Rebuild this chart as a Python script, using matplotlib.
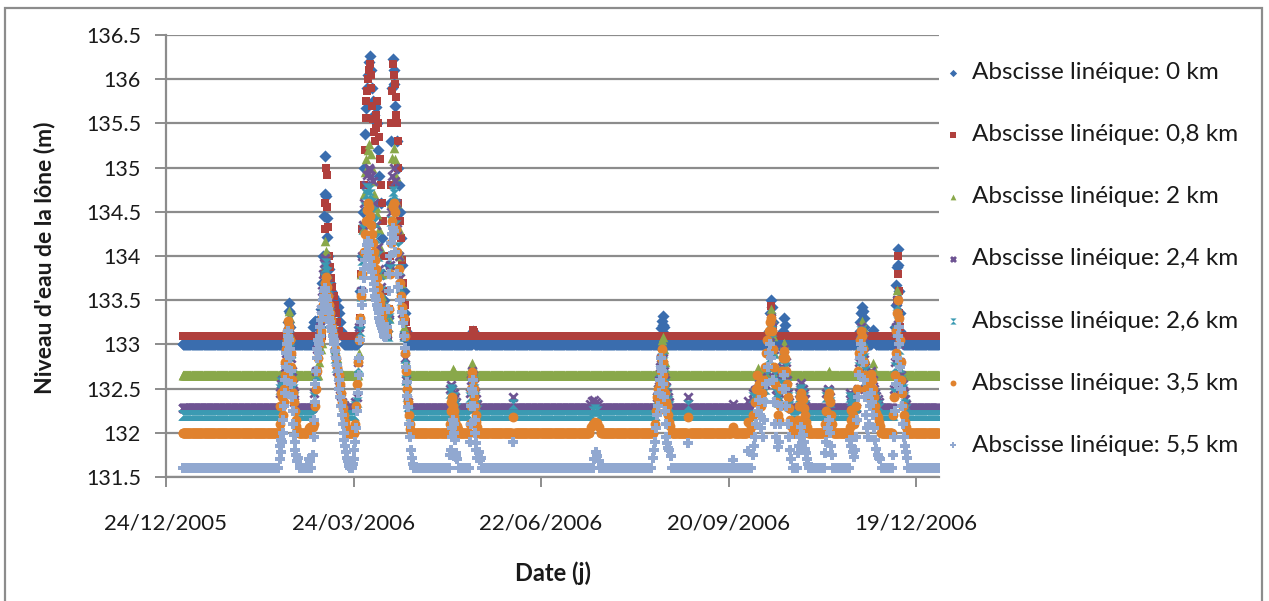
import numpy as np
import matplotlib
matplotlib.use("Agg")
import matplotlib.pyplot as plt
import matplotlib.dates as mdates
from matplotlib.patches import Rectangle

plt.rcParams['font.family'] = ['Lato', 'DejaVu Sans']

# jour 0 = 01/01/2006
START = np.datetime64('2006-01-01')
LAST_DAY = 363

LABELS = ["Abscisse linéique: 0 km", "Abscisse linéique: 0,8 km",
          "Abscisse linéique: 2 km", "Abscisse linéique: 2,4 km",
          "Abscisse linéique: 2,6 km", "Abscisse linéique: 3,5 km",
          "Abscisse linéique: 5,5 km"]

# niveau "à l'étiage" de chaque point (m)
BASELINES = [133.0, 133.1, 132.65, 132.28, 132.2, 132.0, 131.6]

# crues : (jour, niveau)
EVENTS_0KM = [
    (50.3, 133.1), (50.6, 133.25), (50.9, 133.38), (51.1, 133.47), (51.4, 133.35), (51.7, 133.2), (52.0, 133.08),
    (62.5, 133.2), (63.0, 133.25), (63.5, 133.27), (64.0, 133.22), (64.5, 133.26), (65.0, 133.2), (65.5, 133.25), (66.0, 133.2),
    (66.6, 133.4), (67.0, 133.7), (67.4, 134.0), (67.8, 134.45), (68.1, 134.7), (68.4, 135.13), (68.8, 134.68),
    (69.1, 134.43), (69.4, 134.21), (69.8, 134.0), (70.3, 133.85), (70.8, 133.7), (71.4, 133.6), (72.0, 133.55),
    (72.6, 133.5), (73.2, 133.45), (73.8, 133.5), (74.4, 133.42), (75.0, 133.35), (75.6, 133.25), (76.2, 133.15), (76.8, 133.08),
    (84.5, 133.2), (85.2, 133.6), (85.9, 134.0), (86.5, 134.5), (87.0, 135.0), (87.5, 135.38), (88.0, 135.67),
    (88.5, 135.9), (89.0, 136.05), (89.5, 136.2), (89.9, 136.26), (90.3, 136.1), (90.8, 135.9), (91.3, 135.75),
    (91.9, 135.6), (92.6, 135.68), (93.2, 135.5), (93.8, 135.2), (94.4, 134.9), (95.0, 134.6), (95.6, 134.2),
    (96.2, 133.8), (96.8, 133.5), (97.4, 133.25), (98.0, 133.15), (98.6, 133.3), (99.1, 133.9), (99.6, 134.6),
    (100.0, 135.3), (100.4, 135.9), (100.8, 136.23), (101.2, 136.1), (101.6, 135.95), (102.0, 135.7), (102.7, 135.3),
    (103.2, 135.0), (103.6, 134.8), (104.2, 134.5), (104.8, 134.2), (105.4, 133.9), (106.0, 133.6), (106.6, 133.35),
    (107.2, 133.15), (107.7, 133.05),
    (139.5, 133.15),
    (229.5, 133.1), (229.8, 133.18), (230.1, 133.27), (230.4, 133.22), (230.7, 133.32), (231.0, 133.2), (231.3, 133.12),
    (281.5, 133.15), (282.0, 133.35), (282.4, 133.5), (282.8, 133.42), (283.2, 133.25), (283.6, 133.1),
    (288.0, 133.15), (288.5, 133.3), (289.0, 133.22), (289.5, 133.1),
    (325.0, 133.15), (325.3, 133.25), (325.6, 133.35), (326.0, 133.42), (326.4, 133.38), (326.8, 133.3), (327.2, 133.2),
    (327.6, 133.1), (331.0, 133.1), (331.5, 133.16), (332.0, 133.1),
    (342.0, 133.2), (342.3, 133.45), (342.6, 133.67), (342.9, 133.87), (343.2, 134.08), (343.5, 133.9), (343.8, 133.6),
    (344.1, 133.35), (344.5, 133.15), (345.0, 133.05),
]

EVENTS_08KM = [
    (67.5, 133.4), (67.9, 133.8), (68.2, 134.3), (68.5, 134.6), (68.8, 135.0), (69.1, 134.92), (69.4, 134.55),
    (69.7, 134.33), (70.1, 134.0), (70.6, 133.87), (71.2, 133.75), (71.8, 133.65), (72.4, 133.55), (73.0, 133.45),
    (73.6, 133.35), (74.2, 133.25), (74.8, 133.15),
    (85.0, 133.3), (85.6, 133.8), (86.2, 134.3), (86.8, 134.8), (87.3, 135.2), (87.8, 135.56), (88.2, 135.75),
    (88.6, 135.87), (89.0, 136.0), (89.4, 136.1), (89.8, 136.17), (90.2, 136.05), (90.6, 135.9), (91.0, 135.7),
    (91.4, 135.55), (91.8, 135.4), (92.2, 135.3), (92.6, 135.45), (93.0, 135.6), (93.4, 135.75), (93.8, 135.5),
    (94.2, 135.35), (94.7, 135.1), (95.2, 134.8), (95.6, 134.6), (96.0, 134.4), (96.5, 134.0), (97.0, 133.6),
    (97.5, 133.3), (98.0, 133.1), (98.5, 133.08), (99.0, 133.4), (99.4, 134.0), (99.8, 134.8), (100.2, 135.5),
    (100.6, 135.87), (101.0, 136.17), (101.4, 136.05), (101.8, 135.95), (102.2, 135.8), (102.6, 135.6),
    (103.0, 135.5), (103.2, 135.3), (103.35, 135.0), (103.5, 134.6), (104.1, 134.4), (104.7, 134.2), (105.3, 133.95),
    (105.9, 133.7), (106.5, 133.45), (107.1, 133.25), (107.6, 133.15),
    (139.3, 133.16), (139.7, 133.14),
    (282.3, 133.44), (282.7, 133.3), (283.1, 133.18),
    (342.8, 133.5), (343.1, 134.0), (343.4, 133.8), (343.7, 133.6), (344.0, 133.35), (344.3, 133.2),
]

EVENTS_2KM = [
    (49.8, 132.8), (50.2, 133.0), (50.6, 133.2), (51.0, 133.38), (51.4, 133.3), (51.8, 133.1), (52.2, 132.9), (52.6, 132.75),
    (65.5, 132.8), (66.2, 132.95), (66.8, 133.02), (67.3, 133.3), (67.7, 133.6), (68.1, 133.9), (68.5, 134.17),
    (68.9, 134.06), (69.3, 133.8), (69.8, 133.6), (70.3, 133.5), (70.9, 133.35), (71.5, 133.25), (72.1, 133.15),
    (72.7, 133.05), (73.3, 132.95), (74.0, 132.85), (74.7, 132.75), (75.4, 132.7),
    (84.6, 132.9), (85.2, 133.3), (85.8, 133.8), (86.4, 134.3), (87.0, 134.7), (87.6, 134.95), (88.2, 135.1),
    (88.8, 135.2), (89.5, 135.27), (90.2, 135.15), (90.8, 135.0), (91.4, 134.85), (92.0, 134.7), (92.6, 134.55),
    (93.2, 134.48), (94.0, 134.3), (94.8, 134.1), (95.6, 133.8), (96.4, 133.5), (97.2, 133.3), (98.0, 133.15),
    (98.8, 133.3), (99.4, 133.9), (100.0, 134.6), (100.6, 135.11), (101.2, 135.22), (101.8, 135.1), (102.4, 134.9),
    (103.0, 134.6), (103.6, 134.3), (104.2, 134.0), (104.8, 133.7), (105.4, 133.45), (106.0, 133.2), (106.6, 132.95),
    (107.2, 132.8),
    (129.8, 132.72), (130.2, 132.7),
    (138.5, 132.72), (139.0, 132.79), (139.5, 132.75), (140.0, 132.7),
    (229.5, 132.9), (230.0, 133.05), (230.5, 133.08), (231.0, 132.95), (231.5, 132.8),
    (276.0, 132.73), (276.5, 132.7), (281.8, 132.9), (282.2, 133.2), (282.6, 133.4), (283.0, 133.3), (283.4, 133.1),
    (283.8, 132.9), (284.3, 132.75), (288.3, 132.85), (288.8, 133.02), (289.3, 132.9), (289.8, 132.75),
    (309.5, 132.68), (310.0, 132.7),
    (325.5, 133.1), (326.0, 133.27), (326.5, 133.2), (327.0, 133.0), (327.5, 132.85), (331.5, 132.79), (332.0, 132.72),
    (342.6, 133.2), (343.0, 133.61), (343.4, 133.4), (343.8, 133.1), (344.2, 132.85), (344.6, 132.7),
]

EVENTS_24KM = [
    (46.8, 132.45), (47.2, 132.55), (47.6, 132.6), (48.0, 132.55), (48.4, 132.5), (48.8, 132.6), (49.2, 132.75),
    (49.6, 132.9), (50.0, 133.05), (50.4, 133.15), (50.8, 133.22), (51.2, 133.18), (51.6, 133.0), (52.0, 132.85),
    (52.4, 132.7), (52.8, 132.55), (53.2, 132.45), (53.6, 132.35),
    (63.0, 132.45), (63.8, 132.7), (64.6, 132.95), (65.4, 133.1), (66.0, 133.2), (66.5, 133.4), (67.0, 133.6),
    (67.5, 133.8), (68.0, 133.92), (68.5, 133.98), (69.0, 133.9), (69.5, 133.7), (70.0, 133.55), (70.6, 133.4),
    (71.2, 133.3), (71.8, 133.2), (72.4, 133.05), (73.0, 132.9), (73.6, 132.8), (74.2, 132.7), (74.8, 132.6),
    (75.4, 132.5), (76.0, 132.42), (76.6, 132.35), (77.2, 132.32),
    (82.8, 132.35), (83.5, 132.4), (84.2, 132.8), (84.8, 133.2), (85.4, 133.6), (86.0, 134.0), (86.6, 134.35),
    (87.2, 134.6), (87.8, 134.8), (88.5, 134.92), (89.2, 135.0), (89.9, 134.97), (90.6, 134.9), (91.3, 134.85),
    (92.0, 134.6), (92.8, 134.35), (93.6, 134.1), (94.4, 133.85), (95.2, 133.65), (96.0, 133.45), (96.8, 133.3),
    (97.6, 133.18), (98.3, 133.12), (98.9, 133.35), (99.5, 133.9), (100.1, 134.5), (100.7, 134.9), (101.3, 135.0),
    (101.9, 134.85), (102.5, 134.6), (103.1, 134.3), (103.7, 134.0), (104.3, 133.75), (104.9, 133.55),
    (105.5, 133.35), (106.1, 133.1), (106.6, 132.85), (107.1, 132.6), (107.6, 132.45), (108.1, 132.35),
    (128.5, 132.5), (129.0, 132.54), (129.5, 132.5), (130.0, 132.45), (130.5, 132.4), (131.0, 132.35),
    (138.0, 132.45), (138.5, 132.6), (139.0, 132.7), (139.5, 132.65), (140.0, 132.55), (140.5, 132.45),
    (141.0, 132.38), (141.5, 132.33),
    (158.7, 132.4),
    (195.5, 132.33), (196.5, 132.36), (197.5, 132.37), (198.5, 132.35), (199.5, 132.33),
    (227.5, 132.4), (228.0, 132.5), (228.5, 132.6), (229.0, 132.75), (229.5, 132.85), (230.0, 132.9),
    (230.5, 132.85), (231.0, 132.7), (231.5, 132.6), (232.0, 132.52), (232.5, 132.45), (233.0, 132.4), (233.5, 132.35),
    (242.7, 132.4), (264.3, 132.33), (271.5, 132.36),
    (273.5, 132.45), (274.5, 132.48), (275.5, 132.5), (276.5, 132.55), (277.5, 132.5), (278.5, 132.48),
    (279.5, 132.55), (280.5, 132.7), (281.2, 132.9), (281.8, 133.1), (282.4, 133.3), (283.0, 133.2), (283.6, 132.95),
    (284.2, 132.7), (284.8, 132.5), (285.5, 132.4), (286.2, 132.45), (287.0, 132.6), (287.6, 132.75), (288.2, 132.9),
    (288.8, 132.95), (289.4, 132.8), (290.0, 132.6), (290.6, 132.45), (291.2, 132.35),
    (296.0, 132.45), (296.5, 132.52), (297.0, 132.56), (297.5, 132.5), (298.0, 132.45), (298.5, 132.38),
    (309.0, 132.45), (309.5, 132.5), (310.0, 132.48), (310.5, 132.4),
    (320.3, 132.45), (320.8, 132.42), (321.3, 132.38), (322.0, 132.35), (324.0, 132.5), (324.6, 132.8),
    (325.2, 133.05), (325.8, 133.2), (326.4, 133.1), (327.0, 132.9), (327.6, 132.75), (328.2, 132.65),
    (328.8, 132.55), (329.4, 132.6), (330.0, 132.65), (330.6, 132.7), (331.2, 132.6), (331.8, 132.5),
    (332.4, 132.45), (333.0, 132.42), (333.6, 132.38), (334.2, 132.35),
    (341.5, 132.5), (342.0, 132.8), (342.5, 133.2), (343.0, 133.5), (343.5, 133.3), (344.0, 133.0), (344.5, 132.8),
    (345.0, 132.65), (345.5, 132.55), (346.0, 132.45), (346.5, 132.38), (347.0, 132.33),
]

EVENTS_26KM = [
    (46.8, 132.5), (47.2, 132.58), (47.6, 132.52), (48.0, 132.6), (48.4, 132.48), (48.8, 132.55), (49.2, 132.7),
    (49.6, 132.85), (50.0, 133.0), (50.4, 133.12), (50.8, 133.2), (51.2, 133.15), (51.6, 132.95), (52.0, 132.8),
    (52.4, 132.65), (52.8, 132.5), (53.2, 132.4), (53.6, 132.3),
    (63.2, 132.4), (64.0, 132.65), (64.8, 132.9), (65.6, 133.05), (66.2, 133.15), (66.7, 133.35), (67.2, 133.55),
    (67.7, 133.75), (68.2, 133.88), (68.7, 133.92), (69.2, 133.82), (69.7, 133.65), (70.2, 133.5), (70.8, 133.35),
    (71.4, 133.25), (72.0, 133.12), (72.6, 133.0), (73.2, 132.85), (73.8, 132.75), (74.4, 132.65), (75.0, 132.55),
    (75.6, 132.45), (76.2, 132.37), (76.8, 132.3), (77.4, 132.25),
    (82.9, 132.3), (83.6, 132.35), (84.3, 132.75), (84.9, 133.15), (85.5, 133.55), (86.1, 133.95), (86.7, 134.3),
    (87.3, 134.55), (87.9, 134.7), (88.6, 134.77), (89.3, 134.75), (90.0, 134.7), (90.7, 134.6), (91.4, 134.5),
    (92.1, 134.38), (92.9, 134.2), (93.7, 134.0), (94.5, 133.8), (95.3, 133.6), (96.1, 133.42), (96.9, 133.28),
    (97.7, 133.16), (98.4, 133.1), (99.0, 133.3), (99.6, 133.85), (100.2, 134.4), (100.8, 134.74), (101.4, 134.7),
    (102.0, 134.58), (102.6, 134.35), (103.2, 134.1), (103.8, 133.85), (104.4, 133.65), (105.0, 133.5),
    (105.6, 133.32), (106.2, 133.1), (106.7, 132.85), (107.2, 132.6), (107.7, 132.42), (108.2, 132.3), (108.7, 132.24),
    (128.5, 132.45), (129.0, 132.5), (129.5, 132.47), (130.0, 132.4), (130.5, 132.33), (131.0, 132.28),
    (138.0, 132.4), (138.5, 132.55), (139.0, 132.66), (139.5, 132.6), (140.0, 132.5), (140.5, 132.4),
    (141.0, 132.32), (141.5, 132.26),
    (158.7, 132.33),
    (197.0, 132.25), (198.0, 132.27), (199.0, 132.25),
    (227.5, 132.38), (228.0, 132.47), (228.5, 132.56), (229.0, 132.7), (229.5, 132.8), (230.0, 132.85),
    (230.5, 132.8), (231.0, 132.65), (231.5, 132.55), (232.0, 132.48), (232.5, 132.42), (233.0, 132.36), (233.5, 132.3),
    (242.7, 132.32),
    (273.5, 132.4), (274.5, 132.44), (275.5, 132.46), (276.5, 132.5), (277.5, 132.45), (278.5, 132.44),
    (279.5, 132.5), (280.5, 132.65), (281.2, 132.85), (281.8, 133.05), (282.4, 133.25), (283.0, 133.15),
    (283.6, 132.9), (284.2, 132.65), (284.8, 132.45), (285.5, 132.35), (286.2, 132.4), (287.0, 132.55),
    (287.6, 132.7), (288.2, 132.85), (288.8, 132.9), (289.4, 132.75), (290.0, 132.55), (290.6, 132.4), (291.2, 132.3),
    (296.0, 132.4), (296.5, 132.47), (297.0, 132.5), (297.5, 132.45), (298.0, 132.4), (298.5, 132.32),
    (309.0, 132.4), (309.5, 132.46), (310.0, 132.44), (310.5, 132.35),
    (320.3, 132.4), (320.8, 132.37), (321.3, 132.33), (322.0, 132.3), (324.0, 132.45), (324.6, 132.75),
    (325.2, 133.0), (325.8, 133.15), (326.4, 133.05), (327.0, 132.85), (327.6, 132.7), (328.2, 132.6),
    (328.8, 132.5), (329.4, 132.55), (330.0, 132.6), (330.6, 132.65), (331.2, 132.55), (331.8, 132.45),
    (332.4, 132.4), (333.0, 132.36), (333.6, 132.32), (334.2, 132.28),
    (341.5, 132.45), (342.0, 132.75), (342.5, 133.15), (343.0, 133.45), (343.5, 133.25), (344.0, 132.95),
    (344.5, 132.75), (345.0, 132.6), (345.5, 132.5), (346.0, 132.4), (346.5, 132.33), (347.0, 132.27),
]

EVENTS_35KM = [
    (46.6, 132.1), (46.9, 132.3), (47.2, 132.45), (47.5, 132.4), (47.8, 132.3), (48.1, 132.2), (48.4, 132.35),
    (48.7, 132.5), (49.0, 132.65), (49.3, 132.8), (49.6, 132.95), (49.9, 133.05), (50.2, 133.15), (50.6, 133.27),
    (51.0, 133.2), (51.4, 133.05), (51.8, 132.9), (52.2, 132.75), (52.6, 132.6), (53.0, 132.45), (53.4, 132.35),
    (53.8, 132.25), (54.2, 132.15), (54.6, 132.08), (55.0, 132.03),
    (60.5, 132.05), (61.0, 132.07), (61.5, 132.06), (62.0, 132.08), (62.4, 132.06),
    (62.8, 132.1), (63.3, 132.3), (63.8, 132.5), (64.3, 132.7), (64.8, 132.85), (65.3, 133.0), (65.8, 133.05),
    (66.3, 133.15), (66.8, 133.3), (67.3, 133.45), (67.8, 133.6), (68.3, 133.7), (68.8, 133.76), (69.3, 133.65),
    (69.8, 133.55), (70.3, 133.45), (70.8, 133.35), (71.3, 133.28), (71.8, 133.2), (72.3, 133.12), (72.8, 133.05),
    (73.3, 132.95), (73.8, 132.85), (74.3, 132.75), (74.8, 132.65), (75.3, 132.55), (75.8, 132.45), (76.3, 132.35),
    (76.8, 132.28), (77.3, 132.2), (77.8, 132.12), (78.3, 132.06),
    (82.8, 132.1), (83.3, 132.3), (83.8, 132.55), (84.3, 132.8), (84.8, 133.05), (85.3, 133.3), (85.8, 133.55),
    (86.3, 133.8), (86.8, 134.05), (87.3, 134.25), (87.8, 134.4), (88.3, 134.52), (88.8, 134.6), (89.3, 134.55),
    (89.8, 134.45), (90.3, 134.35), (90.8, 134.25), (91.3, 134.15), (91.8, 134.05), (92.3, 133.95), (92.8, 133.85),
    (93.3, 133.75), (93.8, 133.65), (94.3, 133.55), (94.8, 133.47), (95.3, 133.4), (95.8, 133.33), (96.3, 133.25),
    (96.8, 133.2), (97.3, 133.15), (97.8, 133.12), (98.3, 133.15), (98.8, 133.4), (99.3, 133.8), (99.8, 134.15),
    (100.3, 134.4), (100.8, 134.55), (101.3, 134.6), (101.8, 134.5), (102.4, 134.3), (103.0, 134.05),
    (103.6, 133.85), (104.2, 133.7), (104.8, 133.55), (105.4, 133.42), (106.0, 133.3), (106.5, 133.1),
    (106.9, 132.9), (107.3, 132.7), (107.7, 132.5), (108.1, 132.35), (108.5, 132.2), (108.9, 132.1), (109.3, 132.04),
    (128.3, 132.1), (128.6, 132.25), (128.9, 132.35), (129.2, 132.4), (129.5, 132.38), (129.8, 132.3),
    (130.1, 132.25), (130.4, 132.18), (130.8, 132.12), (131.2, 132.06), (131.6, 132.08), (132.0, 132.04),
    (137.9, 132.1), (138.2, 132.3), (138.5, 132.5), (138.8, 132.62), (139.1, 132.69), (139.4, 132.6),
    (139.7, 132.5), (140.0, 132.4), (140.3, 132.3), (140.6, 132.2), (140.9, 132.12), (141.3, 132.06),
    (158.7, 132.18),
    (196.0, 132.06), (197.0, 132.1), (198.0, 132.12), (199.0, 132.11), (200.0, 132.07),
    (226.5, 132.1), (227.0, 132.25), (227.5, 132.4), (228.0, 132.5), (228.5, 132.35), (229.0, 132.55),
    (229.5, 132.7), (229.8, 132.85), (230.1, 132.95), (230.4, 132.8), (230.7, 132.65), (231.0, 132.55),
    (231.4, 132.45), (231.8, 132.35), (232.2, 132.25), (232.6, 132.3), (233.0, 132.2), (233.5, 132.12), (234.0, 132.08),
    (242.7, 132.18), (264.0, 132.07), (271.5, 132.12),
    (273.0, 132.06), (273.8, 132.2), (274.5, 132.35), (275.2, 132.5), (275.8, 132.65), (276.4, 132.55),
    (277.0, 132.4), (277.6, 132.3), (278.2, 132.45), (278.8, 132.6), (279.4, 132.75), (280.0, 132.9),
    (280.6, 133.05), (281.2, 133.15), (281.8, 133.25), (282.4, 133.3), (283.0, 133.15), (283.5, 132.95),
    (284.0, 132.75), (284.5, 132.55), (285.0, 132.35), (285.5, 132.2), (286.0, 132.15), (286.5, 132.3),
    (287.0, 132.5), (287.5, 132.7), (288.0, 132.85), (288.5, 132.93), (289.0, 132.85), (289.5, 132.7),
    (290.0, 132.55), (290.5, 132.4), (291.0, 132.28), (291.5, 132.15), (292.0, 132.08),
    (295.5, 132.15), (296.0, 132.3), (296.5, 132.4), (297.0, 132.45), (297.5, 132.38), (298.0, 132.28),
    (298.5, 132.2), (299.0, 132.12), (299.5, 132.06),
    (308.5, 132.1), (309.0, 132.25), (309.5, 132.4), (310.0, 132.45), (310.5, 132.35), (311.0, 132.2), (311.5, 132.1),
    (320.3, 132.06), (320.6, 132.15), (321.0, 132.26), (321.5, 132.2), (322.0, 132.1), (322.5, 132.15),
    (323.0, 132.3), (323.5, 132.5), (324.0, 132.7), (324.5, 132.9), (325.0, 133.05), (325.5, 133.15),
    (326.0, 133.1), (326.5, 132.95), (327.0, 132.8), (327.5, 132.65), (328.0, 132.5), (328.5, 132.4),
    (329.0, 132.45), (329.5, 132.55), (330.0, 132.62), (330.5, 132.67), (331.0, 132.6), (331.5, 132.5),
    (332.0, 132.4), (332.5, 132.3), (333.0, 132.22), (333.5, 132.18), (334.0, 132.12), (334.5, 132.08),
    (341.0, 132.2), (341.4, 132.4), (341.8, 132.65), (342.2, 132.9), (342.6, 133.15), (343.0, 133.35),
    (343.4, 133.5), (343.8, 133.3), (344.2, 133.05), (344.6, 132.8), (345.0, 132.6), (345.4, 132.45),
    (345.8, 132.3), (346.2, 132.2), (346.6, 132.12), (347.0, 132.06),
]

EVENTS_55KM = [
    (46.5, 131.7), (46.8, 131.85), (47.1, 131.92), (47.4, 131.78), (47.7, 131.9), (48.0, 132.0), (48.3, 132.15),
    (48.6, 132.3), (48.9, 132.45), (49.2, 132.6), (49.5, 132.75), (49.8, 132.9), (50.1, 133.0), (50.4, 133.1),
    (50.7, 133.15), (51.0, 133.05), (51.3, 132.95), (51.6, 132.85), (51.9, 132.7), (52.2, 132.55), (52.5, 132.4),
    (52.8, 132.25), (53.1, 132.1), (53.4, 131.98), (53.7, 131.9), (54.0, 131.8), (54.4, 131.75), (54.8, 131.68),
    (55.5, 131.72), (60.5, 131.7), (61.0, 131.68),
    (62.5, 131.75), (62.8, 131.95), (63.1, 132.15), (63.4, 132.35), (63.7, 132.55), (64.0, 132.7), (64.3, 132.85),
    (64.6, 132.95), (64.9, 133.05), (65.2, 132.9), (65.5, 133.0), (65.8, 133.1), (66.1, 133.2), (66.4, 133.28),
    (66.7, 133.35), (67.0, 133.42), (67.3, 133.5), (67.6, 133.55), (67.9, 133.6), (68.2, 133.64), (68.5, 133.6),
    (68.8, 133.55), (69.1, 133.5), (69.4, 133.45), (69.7, 133.4), (70.0, 133.35), (70.4, 133.3), (70.8, 133.25),
    (71.2, 133.2), (71.6, 133.15), (72.0, 133.1), (72.4, 133.05), (72.8, 133.0), (73.2, 132.92), (73.6, 132.85),
    (74.0, 132.77), (74.4, 132.7), (74.8, 132.6), (75.2, 132.5), (75.6, 132.4), (76.0, 132.3), (76.4, 132.2),
    (76.8, 132.1), (77.2, 132.0), (77.6, 131.92), (78.0, 131.85), (78.4, 131.78), (78.8, 131.72), (79.2, 131.68),
    (79.6, 131.65), (80.0, 131.62), (80.4, 131.6), (80.8, 131.62), (81.2, 131.6), (81.6, 131.65), (82.0, 131.7),
    (82.4, 131.8),
    (82.8, 131.9), (83.2, 132.05), (83.6, 132.25), (84.0, 132.45), (84.4, 132.65), (84.8, 132.85), (85.2, 133.05),
    (85.6, 133.25), (86.0, 133.45), (86.4, 133.6), (86.8, 133.75), (87.2, 133.85), (87.6, 133.95), (88.0, 134.05),
    (88.4, 134.12), (88.8, 134.17), (89.2, 134.12), (89.6, 134.05), (90.0, 133.98), (90.4, 133.9), (90.8, 133.82),
    (91.2, 133.75), (91.6, 133.68), (92.0, 133.62), (92.4, 133.55), (92.8, 133.5), (93.2, 133.45), (93.6, 133.4),
    (94.0, 133.35), (94.4, 133.3), (94.8, 133.25), (95.2, 133.22), (95.6, 133.18), (96.0, 133.15), (96.4, 133.12),
    (96.8, 133.1), (97.2, 133.08), (97.6, 133.1), (98.0, 133.2), (98.4, 133.4), (98.8, 133.6), (99.2, 133.8),
    (99.6, 134.0), (100.0, 134.15), (100.4, 134.25), (100.8, 134.32), (101.2, 134.28), (101.6, 134.2),
    (102.0, 134.05), (102.7, 133.8), (103.5, 133.65), (104.3, 133.5), (105.1, 133.37), (105.9, 133.24),
    (106.3, 133.1), (106.7, 132.96), (107.1, 132.75), (107.5, 132.57), (107.9, 132.42), (108.3, 132.29),
    (108.7, 132.1), (109.1, 131.95), (109.5, 131.8), (109.9, 131.72), (110.4, 131.65),
    (128.5, 131.75), (128.8, 131.8), (129.1, 131.95), (129.4, 132.05), (129.7, 132.14), (130.0, 132.1),
    (130.3, 132.0), (130.6, 131.92), (131.0, 131.77), (131.4, 131.73), (131.8, 131.7),
    (138.0, 131.9), (138.3, 132.1), (138.6, 132.3), (138.9, 132.5), (139.2, 132.6), (139.5, 132.45),
    (139.8, 132.3), (140.1, 132.15), (140.4, 132.0), (140.7, 131.88), (141.0, 131.8), (141.4, 131.72),
    (142.0, 131.78), (142.6, 131.69), (143.2, 131.72),
    (158.7, 131.9),
    (197.5, 131.7), (198.3, 131.78), (199.0, 131.74), (199.8, 131.68),
    (225.5, 131.72), (226.0, 131.8), (226.5, 131.9), (227.0, 132.05), (227.5, 132.2), (228.0, 132.3),
    (228.5, 132.45), (229.0, 132.6), (229.4, 132.75), (229.8, 132.85), (230.2, 132.7), (230.6, 132.55),
    (231.0, 132.4), (231.4, 132.25), (231.8, 132.1), (232.2, 131.95), (232.6, 131.88), (233.0, 131.83),
    (233.5, 131.8), (234.2, 131.74),
    (242.7, 131.88), (264.3, 131.69), (271.5, 131.79),
    (273.5, 131.75), (274.2, 131.85), (274.8, 131.95), (275.4, 132.1), (276.0, 132.25), (276.6, 132.37),
    (277.2, 132.2), (277.8, 132.05), (278.4, 131.95), (279.0, 132.15), (279.6, 132.35), (280.2, 132.55),
    (280.8, 132.75), (281.4, 132.9), (282.0, 133.0), (282.6, 132.85), (283.2, 132.6), (283.8, 132.35),
    (284.4, 132.1), (285.0, 131.95), (285.6, 131.84), (286.2, 131.9), (286.8, 132.1), (287.4, 132.3),
    (288.0, 132.5), (288.6, 132.65), (289.2, 132.5), (289.8, 132.3), (290.4, 132.1), (291.0, 131.95),
    (291.6, 131.8), (292.2, 131.7),
    (295.5, 131.77), (296.0, 131.85), (296.5, 131.95), (297.0, 132.07), (297.5, 131.98), (298.0, 131.9),
    (298.5, 131.82), (299.0, 131.77), (299.5, 131.7), (300.2, 131.65),
    (308.5, 131.77), (309.0, 131.9), (309.5, 132.05), (310.0, 132.15), (310.5, 132.0), (311.0, 131.85), (311.5, 131.75),
    (320.5, 131.92), (321.0, 131.85), (321.5, 131.78), (322.0, 131.73), (322.5, 131.8), (323.0, 131.95),
    (323.5, 132.15), (324.0, 132.4), (324.5, 132.65), (325.0, 132.85), (325.5, 133.0), (326.0, 132.95),
    (326.5, 132.8), (327.0, 132.6), (327.5, 132.4), (328.0, 132.2), (328.5, 132.05), (329.0, 131.95),
    (329.5, 132.1), (330.0, 132.3), (330.5, 132.45), (331.0, 132.35), (331.5, 132.2), (332.0, 132.05),
    (332.5, 131.92), (333.0, 131.82), (333.5, 131.75), (334.0, 131.72), (334.8, 131.7),
    (341.0, 131.75), (341.5, 131.95), (342.0, 132.25), (342.4, 132.55), (342.8, 132.85), (343.2, 133.1),
    (343.6, 133.2), (344.0, 133.0), (344.4, 132.75), (344.8, 132.5), (345.2, 132.3), (345.6, 132.1),
    (346.0, 131.95), (346.5, 131.85), (347.0, 131.78), (347.5, 131.72),
]

EVENTS = [EVENTS_0KM, EVENTS_08KM, EVENTS_2KM, EVENTS_24KM, EVENTS_26KM, EVENTS_35KM, EVENTS_55KM]

# styles type Excel 2007
COLORS = ['#3A6DAE', '#B0403D', '#89A84A', '#6E5493', '#3B9AB2', '#E0822E', '#91A8D0']
HOURGLASS = [(-1, 1), (1, 1), (0, 0), (1, -1), (-1, -1), (0, 0), (-1, 1)]
MARKERS = ['D', 's', '^', 'x', HOURGLASS, 'o', 'P']
SIZES = [38, 40, 48, 36, 55, 50, 46]

GRID_GRAY = '#8C8C8C'
TEXT = '#1a1a1a'


def build_series(base, events):
    """Points d'étiage + points de crue d'une série"""
    ev = np.array(events)
    days = np.arange(0, LAST_DAY + 0.01, 0.25)
    far = np.abs(days[:, None] - ev[None, :, 0]).min(axis=1) > 0.5
    d = np.concatenate([days[far], ev[:, 0]])
    v = np.concatenate([np.full(far.sum(), base), ev[:, 1]])
    x = mdates.date2num(START) + d
    return x, v


def main():
    fig = plt.figure(figsize=(12.69, 6.01), dpi=100)
    ax = fig.add_axes([166 / 1269, 1 - 477 / 601, (939 - 166) / 1269, (477 - 35) / 601])

    for i, (lab, base, ev) in enumerate(zip(LABELS, BASELINES, EVENTS)):
        x, v = build_series(base, ev)
        lw = 2.0 if MARKERS[i] == 'x' else 0
        ax.scatter(x, v, s=SIZES[i], marker=MARKERS[i], color=COLORS[i],
                   linewidths=lw, label=lab, zorder=3 + i)

    x0 = mdates.date2num(np.datetime64('2005-12-24'))
    ax.set_xlim(x0, mdates.date2num(START) + LAST_DAY)
    ax.set_xticks([x0 + 90 * k for k in range(5)])
    ax.xaxis.set_major_formatter(mdates.DateFormatter('%d/%m/%Y'))
    ax.set_ylim(131.5, 136.5)
    yt = np.arange(131.5, 136.51, 0.5)
    ax.set_yticks(yt)
    ax.set_yticklabels([f'{t:g}' for t in yt])

    ax.grid(axis='y', color=GRID_GRAY, linewidth=1.6, zorder=0)
    ax.set_axisbelow(True)
    for side in ['top', 'right']:
        ax.spines[side].set_visible(False)
    for side in ['left', 'bottom']:
        ax.spines[side].set_color(GRID_GRAY)
        ax.spines[side].set_linewidth(1.6)
    ax.tick_params(axis='y', length=8, width=1.4, color=GRID_GRAY, pad=10,
                   labelsize=15.5, labelcolor=TEXT)
    ax.tick_params(axis='x', length=7, width=1.4, color=GRID_GRAY, pad=19,
                   labelsize=16, labelcolor=TEXT)

    fig.text(45 / 1269, 1 - 258 / 601, "Niveau d'eau de la lône (m)", rotation=90,
             ha='center', va='center', fontsize=16.5, fontweight='bold', color=TEXT)
    fig.text(553 / 1269, 1 - 573 / 601, "Date (j)", ha='center', va='center',
             fontsize=17, fontweight='bold', color=TEXT)

    fig.legend(loc='upper left', bbox_to_anchor=(934 / 1269, 1 - 50 / 601),
               frameon=False, fontsize=17.5, labelspacing=1.69, handlelength=0.6,
               handletextpad=0.45, borderpad=0, scatterpoints=1, markerscale=0.6,
               labelcolor=TEXT)

    fig.add_artist(Rectangle((5 / 1269, -0.02), 1257 / 1269, 1.02 - 8 / 601,
                             transform=fig.transFigure, fill=False,
                             edgecolor=GRID_GRAY, linewidth=1.6))

    fig.savefig('out.png', dpi=100)


if __name__ == "__main__":
    main()
